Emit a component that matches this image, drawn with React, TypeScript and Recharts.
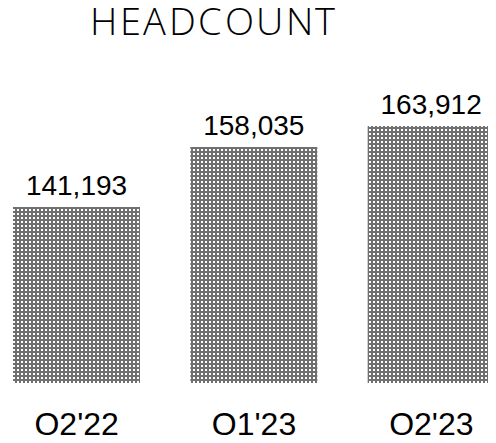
import { Bar, BarChart, LabelList, XAxis, YAxis } from "recharts";

const quarters = ["Q2'22", "Q1'23", "Q2'23"];
const headcount = [141193, 158035, 163912];

const data = quarters.map((q, i) => ({ quarter: q, headcount: headcount[i] }));

const fmt = (v: number) => v.toLocaleString("en-US");

// tighter line metrics for the title so its box stays inside the page
const titleFace = `
@font-face {
	font-family: "TitleSans";
	src: local("Open Sans Light"), local("OpenSans-Light"), local("Open Sans");
	font-weight: 300;
	ascent-override: 80%;
	descent-override: 20%;
	line-gap-override: 0%;
}
`;

function QuarterTick(props: any) {
	const { x, y, payload } = props;
	return (
		<text
			x={x}
			y={y}
			dy={44}
			textAnchor="middle"
			fontSize={32}
			fill="#000"
			fontFamily="'Liberation Sans', Arial, sans-serif"
		>
			{payload.value}
		</text>
	);
}

export default function App() {
	return (
		<div
			style={{
				position: "relative",
				width: 496,
				height: 443,
				margin: -8,
				overflow: "hidden",
				background: "#fff",
			}}
		>
			<style>{titleFace}</style>
			<div
				style={{
					position: "absolute",
					left: 0,
					top: 5,
					width: 428,
					textAlign: "center",
					fontFamily: "TitleSans, 'Open Sans', sans-serif",
					fontWeight: 300,
					fontVariationSettings: "'wght' 300",
					fontSize: 38,
					letterSpacing: 2.5,
					lineHeight: 1,
					color: "#000",
				}}
			>
				HEADCOUNT
			</div>
			<div style={{ position: "absolute", left: -12, top: 0 }}>
				<BarChart
					width={532}
					height={443}
					data={data}
					margin={{ top: 100, right: 0, bottom: 0, left: 0 }}
					barCategoryGap={25}
				>
					<defs>
						<pattern id="dots" width="4" height="4" patternUnits="userSpaceOnUse">
							<rect width="4" height="4" fill="#707070" />
							<rect x="1" y="1" width="2" height="2" fill="#fff" />
						</pattern>
					</defs>
					<XAxis
						dataKey="quarter"
						axisLine={false}
						tickLine={false}
						height={60}
						tick={<QuarterTick />}
						interval={0}
					/>
					<YAxis hide domain={[91800, 171200]} />
					<Bar dataKey="headcount" fill="url(#dots)" isAnimationActive={false}>
						<LabelList
							dataKey="headcount"
							position="top"
							offset={12}
							formatter={(v: any) => fmt(Number(v))}
							fontSize={28}
							fill="#000"
							fontFamily="'Liberation Sans', Arial, sans-serif"
						/>
					</Bar>
				</BarChart>
			</div>
		</div>
	);
}
